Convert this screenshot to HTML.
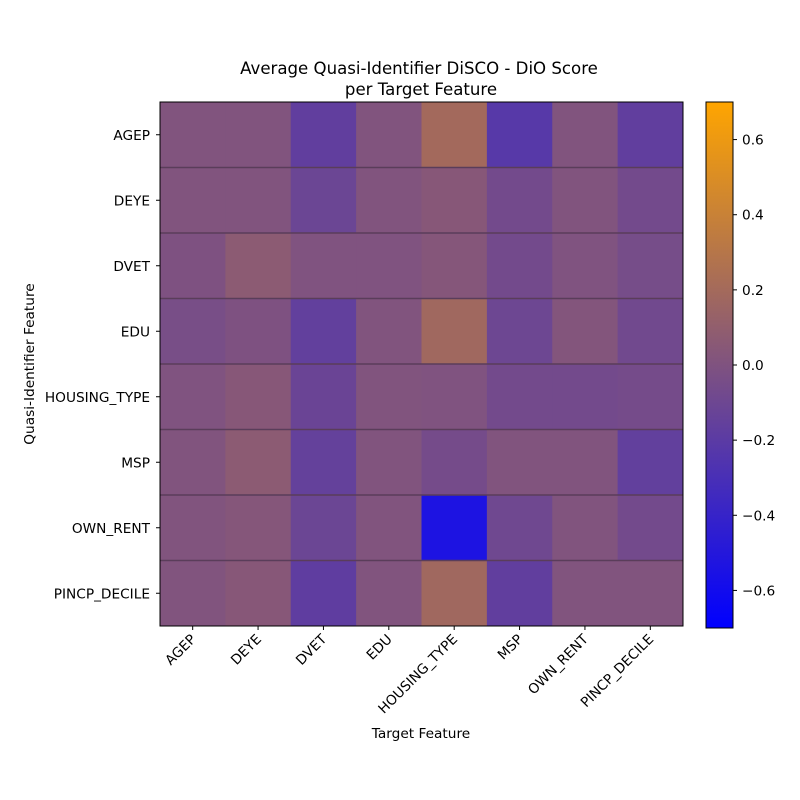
<!DOCTYPE html>
<html><head><meta charset="utf-8"><style>body{margin:0;background:#fff}svg{display:block;font-family:"DejaVu Sans","Liberation Sans",sans-serif}</style></head>
<body>
<svg id="chart" width="800" height="800" viewBox="0 0 800 800">
<defs><linearGradient id="cb" x1="0" y1="1" x2="0" y2="0"><stop offset="0" stop-color="#0000ff"/><stop offset="1" stop-color="#ffa500"/></linearGradient></defs>
<g id="cells"></g>
<g id="axes"></g>
</svg>
<script>
const targets = ["AGEP","DEYE","DVET","EDU","HOUSING_TYPE","MSP","OWN_RENT","PINCP_DECILE"];
const quasi = ["AGEP","DEYE","DVET","EDU","HOUSING_TYPE","MSP","OWN_RENT","PINCP_DECILE"];
const row_AGEP = [0.01,0.01,-0.17,0.01,0.195,-0.22,0.01,-0.17];
const row_DEYE = [0.01,0.01,-0.11,0.01,0.04,-0.07,0.01,-0.07];
const row_DVET = [-0.01,0.07,0.0,0.0,0.03,-0.07,0.0,-0.05];
const row_EDU = [-0.04,-0.01,-0.16,0.01,0.18,-0.1,0.02,-0.08];
const row_HOUSING = [0.0,0.04,-0.12,0.01,0.0,-0.07,-0.07,-0.06];
const row_MSP = [0.01,0.07,-0.15,0.01,-0.06,0.01,0.01,-0.16];
const row_OWN = [0.01,0.03,-0.11,0.01,-0.54,-0.09,0.01,-0.07];
const row_PINCP = [0.01,0.04,-0.18,0.01,0.18,-0.17,0.01,0.01];
const values = [row_AGEP,row_DEYE,row_DVET,row_EDU,row_HOUSING,row_MSP,row_OWN,row_PINCP];
const cbTicks = [0.6,0.4,0.2,0.0,-0.2,-0.4,-0.6];
const vmin=-0.7, vmax=0.7;

const NS="http://www.w3.org/2000/svg";
const L=160,T=102,R=683,B=626;
const cw=(R-L)/targets.length, ch=(B-T)/quasi.length;
const xs=i=>L+i*cw, ys=j=>T+j*ch;
function col(v){const t=Math.max(0,Math.min(1,(v-vmin)/(vmax-vmin)));return `rgb(${Math.round(255*t)},${Math.round(165*t)},${Math.round(255*(1-t))})`;}
function mk(tag,attrs,parent,text){const e=document.createElementNS(NS,tag);for(const k in attrs)e.setAttribute(k,attrs[k]);if(text!==undefined)e.textContent=text;parent.appendChild(e);return e;}
const cells=document.getElementById('cells'), ax=document.getElementById('axes');
values.forEach((row,j)=>row.forEach((v,i)=>{
 const r=mk('rect',{x:xs(i),y:ys(j),width:cw+0.5,height:ch+0.5,fill:col(v)},cells);
 
 
}));
for(let j=1;j<quasi.length;j++){
 const l=mk('line',{x1:L,x2:R,y1:ys(j),y2:ys(j),stroke:'#5a3d5a','stroke-width':1.5},cells);
 
 
}
const fr=mk('rect',{x:L,y:T,width:R-L,height:B-T,fill:'none',stroke:'#000','stroke-width':1},ax);


targets.forEach((t,i)=>{
 const cx=xs(i)+cw/2;
 mk('line',{x1:cx,x2:cx,y1:B,y2:B+4,stroke:'#000'},ax);
 const tx=mk('text',{x:cx+4,y:B+14,'font-size':13.7,'text-anchor':'end',transform:`rotate(-45 ${cx+4} ${B+14})`},ax,t);
 
 
});
quasi.forEach((q,j)=>{
 const cy=ys(j)+ch/2;
 mk('line',{x1:L-4,x2:L,y1:cy,y2:cy,stroke:'#000'},ax);
 const tx=mk('text',{x:L-10,y:cy+5,'font-size':13.7,'text-anchor':'end'},ax,q);
 
 
});
const CL=706,CR=733,CT=102,CB=628;
const cb=mk('rect',{x:CL,y:CT,width:CR-CL,height:CB-CT,fill:'url(#cb)',stroke:'#000','stroke-width':1},ax);


cbTicks.forEach(v=>{
 const y=CT+(vmax-v)/(vmax-vmin)*(CB-CT);
 mk('line',{x1:CR,x2:CR+4,y1:y,y2:y,stroke:'#000'},ax);
 const tx=mk('text',{x:CR+9,y:y+5,'font-size':13.7},ax,(v<0?'\u2212':'')+Math.abs(v).toFixed(1));
 
 
});
const t1=mk('text',{x:419,y:74,'font-size':16.6,'text-anchor':'middle'},ax,'Average Quasi-Identifier DiSCO - DiO Score');


const t2=mk('text',{x:421,y:95,'font-size':16.6,'text-anchor':'middle'},ax,'per Target Feature');


const xt=mk('text',{x:421,y:738,'font-size':13.7,'text-anchor':'middle'},ax,'Target Feature');


const yt=mk('text',{x:34,y:364,'font-size':13.7,'text-anchor':'middle',transform:'rotate(-90 34 364)'},ax,'Quasi-Identifier Feature');


</script>
</body></html>
